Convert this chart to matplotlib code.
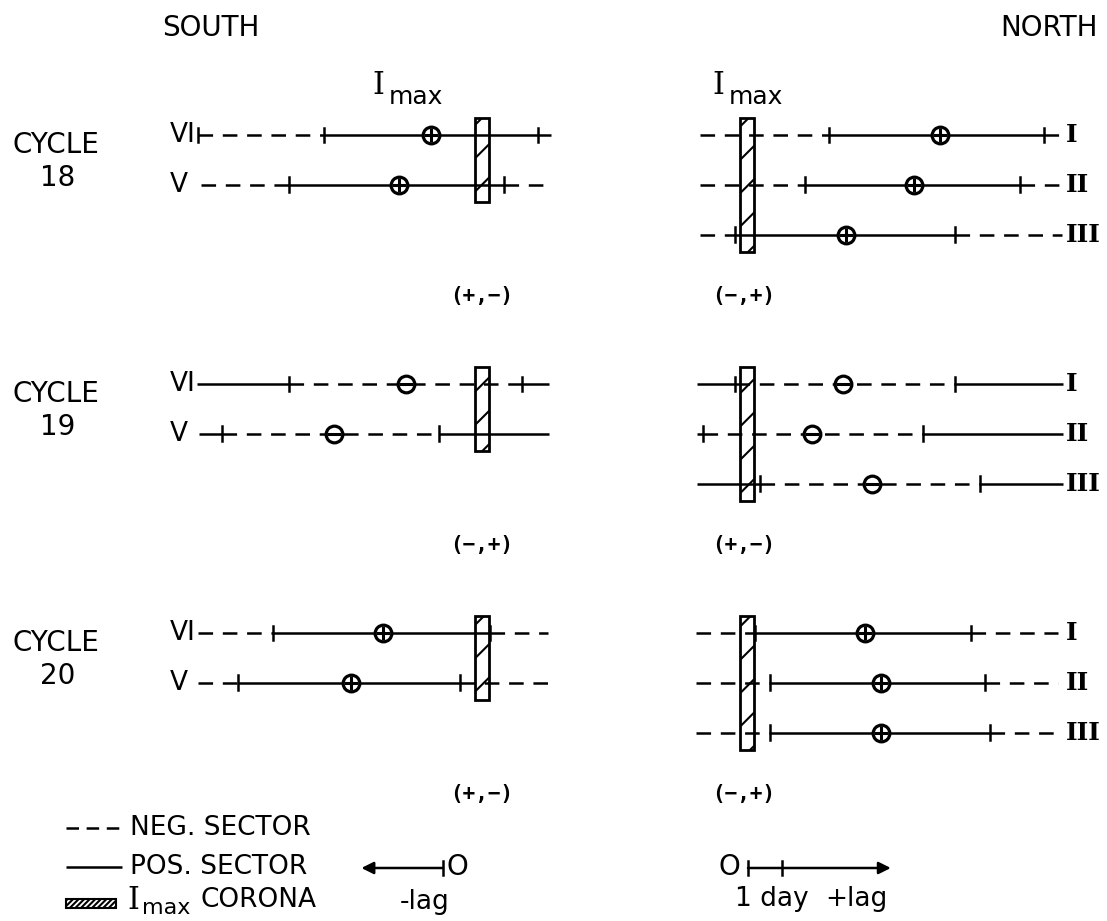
import matplotlib
matplotlib.use("Agg")
import matplotlib.pyplot as plt
from matplotlib.patches import Rectangle

plt.rcParams['lines.scale_dashes'] = False
plt.rcParams['hatch.linewidth'] = 1.5
SANS = ['DejaVu Sans']
SERIF = ['DejaVu Serif']
MONO = ['DejaVu Sans Mono']

# ---------------- data (lags in days relative to coronal I_max) ----------------
cycles = ["18", "19", "20"]
south_rows = ["VI", "V"]
north_rows = ["I", "II", "III"]
south_signs = ["(+,\u2212)", "(\u2212,+)", "(+,\u2212)"]
north_signs = ["(\u2212,+)", "(+,\u2212)", "(\u2212,+)"]
centre_sign = ["+", "-", "+"]
# sector order along each row: N = negative (dashed), P = positive (solid)
south_sectors = ["NPN", "PNP", "NPN"]
north_sectors = ["NPN", "PNP", "NPN"]

# sector boundaries per row (days)
south_bounds_18 = [[-8.35, -4.65, 1.65, 2.03], [-8.26, -5.68, 0.65, 1.82]]
south_bounds_19 = [[-8.38, -5.68, 1.18, 1.97], [-8.32, -7.65, -1.26, 1.97]]
south_bounds_20 = [[-8.35, -6.15, 0.24, 1.94], [-8.35, -7.18, -0.65, 1.94]]
north_bounds_18 = [[-1.38, 2.41, 8.74, 9.26], [-1.38, 1.71, 8.03, 9.26], [-1.38, -0.35, 6.12, 9.26]]
north_bounds_19 = [[-1.47, -0.35, 6.12, 9.29], [-1.47, -1.29, 5.18, 9.29], [-1.47, 0.38, 6.85, 9.29]]
north_bounds_20 = [[-1.50, 0.24, 6.59, 9.15], [-1.50, 0.68, 7.00, 9.15], [-1.50, 0.68, 7.15, 9.15]]

# tick marks drawn on each row (days)
south_ticks_18 = [[-8.35, -4.65, 1.65], [-5.68, 0.65]]
south_ticks_19 = [[-5.68, 1.18], [-7.65, -1.26]]
south_ticks_20 = [[-6.15, 0.24], [-7.18, -0.65]]
north_ticks_18 = [[2.41, 8.74], [1.71, 8.03], [-0.35, 6.12]]
north_ticks_19 = [[-0.35, 6.12], [-1.29, 5.18], [0.38, 6.85]]
north_ticks_20 = [[0.24, 6.59], [0.68, 7.00], [0.68, 7.15]]

# centre of the sector pattern (days)
south_centre = [[-1.50, -2.44], [-2.24, -4.35], [-2.91, -3.85]]
north_centre = [[5.68, 4.91, 2.91], [2.82, 1.91, 3.68], [3.47, 3.94, 3.94]]

south_bounds = [south_bounds_18, south_bounds_19, south_bounds_20]
north_bounds = [north_bounds_18, north_bounds_19, north_bounds_20]
south_ticks = [south_ticks_18, south_ticks_19, south_ticks_20]
north_ticks = [north_ticks_18, north_ticks_19, north_ticks_20]

# ---------------- layout ----------------
W, H = 1107, 921
PX_DAY = 34.0
S_ZERO, N_ZERO = 482, 747
ROW_PX, ROW0 = 49.8, 135
CYC_STEP = 5
LW = 1.8
DASH = (10.5, 7.0)

fig = plt.figure(figsize=(W / 100, H / 100), dpi=100)
fig.patch.set_facecolor('white')


def data_axes(zero):
    a = fig.add_axes([0, 0, 1, 1])
    a.set_xlim(-zero / PX_DAY, (W - zero) / PX_DAY)
    a.set_ylim((H - ROW0) / ROW_PX, -ROW0 / ROW_PX)
    a.axis('off')
    return a


axS = data_axes(S_ZERO)
axN = data_axes(N_ZERO)
ov = fig.add_axes([0, 0, 1, 1])
ov.set_xlim(0, W)
ov.set_ylim(H, 0)
ov.axis('off')


def draw_row(ax, y, bounds, sectors, ticks, centre, sign):
    for i, s in enumerate(sectors):
        x0, x1 = bounds[i], bounds[i + 1]
        if s == 'P':
            ax.plot([x0, x1], [y, y], color='k', lw=LW, solid_capstyle='butt', zorder=3)
        else:
            ax.plot([x0, x1], [y, y], color='k', lw=LW, dashes=DASH,
                    dash_capstyle='butt', zorder=3)
    for t in ticks:
        ax.plot([t, t], [y - 0.15, y + 0.15], color='k', lw=LW, zorder=3)
    ax.plot(centre, y, 'o', ms=12, mfc='white', mec='k', mew=2.3, zorder=5)
    ax.plot(centre, y, '+' if sign == '+' else '_', ms=10, mec='k', mew=2.2, zorder=6)


def draw_bar(ax, y0, nrows):
    ax.add_patch(Rectangle((-0.22, y0 - 0.35), 0.44, nrows - 1 + 0.7,
                           facecolor='white', edgecolor='k', lw=2.0,
                           hatch='/', zorder=2))


for c, cyc in enumerate(cycles):
    base = c * CYC_STEP
    draw_bar(axS, base, len(south_rows))
    draw_bar(axN, base, len(north_rows))
    for r, name in enumerate(south_rows):
        draw_row(axS, base + r, south_bounds[c][r], south_sectors[c],
                 south_ticks[c][r], south_centre[c][r], centre_sign[c])
        ov.text(170, ROW0 + (base + r) * ROW_PX, name, ha='left', va='center',
                fontsize=19, family=SANS)
    for r, name in enumerate(north_rows):
        draw_row(axN, base + r, north_bounds[c][r], north_sectors[c],
                 north_ticks[c][r], north_centre[c][r], centre_sign[c])
        ov.text(1066, ROW0 + (base + r) * ROW_PX, name, ha='left', va='center',
                fontsize=18, family=SERIF, weight='bold')
    yc = ROW0 + base * ROW_PX
    ov.text(56, yc + 10, "CYCLE", ha='center', va='center', fontsize=20, family=SANS)
    ov.text(58, yc + 43, cyc, ha='center', va='center', fontsize=20, family=SANS)
    ov.text(S_ZERO, yc + 161, south_signs[c], ha='center', va='center',
            fontsize=15, family=MONO, weight='bold')
    ov.text(N_ZERO - 3, yc + 161, north_signs[c], ha='center', va='center',
            fontsize=15, family=MONO, weight='bold')

# headers
ov.text(211, 28, "SOUTH", ha='center', va='center', fontsize=20, family=SANS)
ov.text(1098, 28, "NORTH", ha='right', va='center', fontsize=20, family=SANS)
for x0 in (372, 712):
    ov.text(x0, 86, "I", ha='left', va='center', fontsize=22, family=SERIF)
    ov.text(x0 + 17, 97, "max", ha='left', va='center', fontsize=18, family=SANS)

# legend
LEG_X0, LEG_X1 = 66, 122
ov.plot([LEG_X0, LEG_X1], [828, 828], color='k', lw=LW, dashes=(9, 5.5), dash_capstyle='butt')
ov.text(130, 828, "NEG. SECTOR", ha='left', va='center', fontsize=19, family=SANS)
ov.plot([LEG_X0, LEG_X1], [867, 867], color='k', lw=LW, solid_capstyle='butt')
ov.text(130, 867, "POS. SECTOR", ha='left', va='center', fontsize=19, family=SANS)
ov.add_patch(Rectangle((LEG_X0, 899), LEG_X1 - LEG_X0 - 6, 9, facecolor='white',
                       edgecolor='k', lw=1.5, hatch='//////'))
ov.text(127, 900, "I", ha='left', va='center', fontsize=22, family=SERIF)
ov.text(142, 908, "max", ha='left', va='center', fontsize=16, family=SANS)
ov.text(200, 900, "CORONA", ha='left', va='center', fontsize=19, family=SANS)

# lag scale bars
ys = 868
ov.plot([443, 443], [ys - 7, ys + 7], color='k', lw=LW)
ov.annotate("", xy=(443 - 2.4 * PX_DAY, ys), xytext=(443, ys),
            arrowprops=dict(arrowstyle='-|>', color='k', lw=LW, mutation_scale=18,
                            shrinkA=0, shrinkB=0))
ov.text(457, ys - 1, "O", ha='center', va='center', fontsize=20, family=SANS)
ov.text(425, 902, "-lag", ha='center', va='center', fontsize=19, family=SANS)

x0n = 748
ov.plot([x0n, x0n], [ys - 7, ys + 7], color='k', lw=LW)
ov.plot([x0n + PX_DAY, x0n + PX_DAY], [ys - 7, ys + 7], color='k', lw=LW)
ov.annotate("", xy=(x0n + 4.2 * PX_DAY, ys), xytext=(x0n, ys),
            arrowprops=dict(arrowstyle='-|>', color='k', lw=LW, mutation_scale=18,
                            shrinkA=0, shrinkB=0))
ov.text(729, ys - 1, "O", ha='center', va='center', fontsize=20, family=SANS)
ov.text(772, 899, "1 day", ha='center', va='center', fontsize=19, family=SANS)
ov.text(856, 899, "+lag", ha='center', va='center', fontsize=19, family=SANS)

fig.savefig("out.png", dpi=100, facecolor='white')
